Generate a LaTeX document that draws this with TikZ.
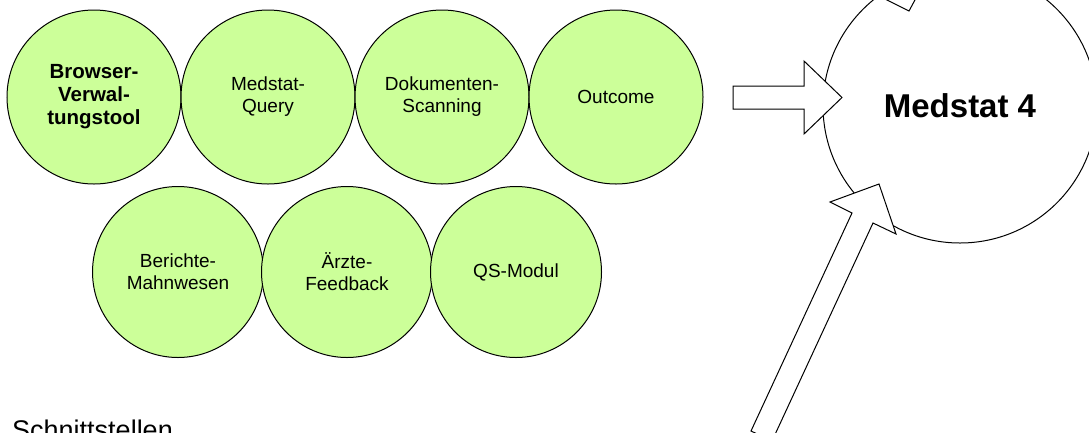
\documentclass[tikz,border=0pt]{standalone}
\usepackage{fontspec}
\setmainfont{Liberation Sans}
\usetikzlibrary{positioning}
\definecolor{modgreen}{RGB}{204,255,153}

\begin{document}
\begin{tikzpicture}[x=1pt,y=-1pt,
	modul/.style={circle,draw=black,line width=1pt,fill=modgreen,minimum size=174pt,inner sep=0pt,align=center,font=\fontsize{19}{22}\selectfont},
	blockpfeil/.style={draw=black,line width=1pt,fill=white,line join=miter}]
	\useasboundingbox (0,0) rectangle (1089,432);
	% obere Reihe
	\node[modul,font=\fontsize{20.5}{23}\selectfont\bfseries] (M1) at (94,97) {Browser-\\Verwal-\\tungstool};
	\foreach \txt [count=\n from 2] in {{Medstat-\\Query},{Dokumenten-\\Scanning},Outcome}
		\node[modul,xshift={(\n-1)*174pt}] (M\n) at (M1) {\txt};
	% untere Reihe
	\foreach \txt [count=\n] in {{Berichte-\\Mahnwesen},{Ärzte-\\Feedback},QS-Modul}
		\node[modul,minimum size=171pt,xshift={(\n-1)*169pt}] (B\n) at (178,272) {\txt};
	
	\node[circle,draw=black,line width=1pt,minimum size=274pt,font=\fontsize{33}{40}\selectfont\bfseries] (MS) at (960,106) {Medstat 4};
	
	\draw[blockpfeil] (733,86) -- (804,86) -- (804,61) -- (842,97.5) -- (804,134) -- (804,109) -- (733,109) -- cycle;
	\draw[blockpfeil] (751,431) -- (852,213) -- (830,202) -- (879,184) -- (896,234) -- (873,223) -- (772,441) -- cycle;
	\draw[blockpfeil] (883,-2) -- (909,11) -- (916,-2) -- cycle;
	
	\node[anchor=north west,inner sep=0pt,font=\fontsize{27}{32}\selectfont] (SST) at (12,420) {Schnittstellen};
\end{tikzpicture}
\end{document}
